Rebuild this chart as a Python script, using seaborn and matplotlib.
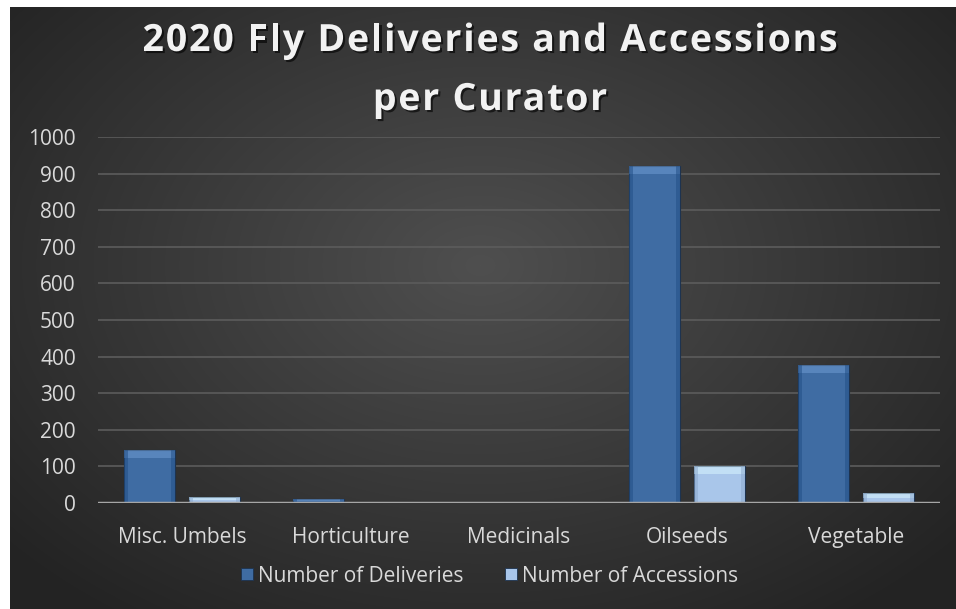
import numpy as np
import pandas as pd
import matplotlib
matplotlib.use("Agg")
import matplotlib.pyplot as plt
import matplotlib.patheffects as pe
from matplotlib.lines import Line2D
from matplotlib.patches import Rectangle
import seaborn as sns

categories = ["Misc. Umbels", "Horticulture", "Medicinals", "Oilseeds", "Vegetable"]
deliveries = [145, 10, 0, 920, 378]
accessions = [16, 1, 0, 100, 27]
series_names = ["Number of Deliveries", "Number of Accessions"]
yticks = list(range(0, 1001, 100))
title_lines = ["2020 Fly Deliveries and Accessions", "per Curator"]

df = pd.DataFrame({
    "Curator": categories * 2,
    "Value": deliveries + accessions,
    "Series": [series_names[0]] * len(categories) + [series_names[1]] * len(categories),
})

sns.set_theme(style="dark")
plt.rcParams["font.family"] = ["Open Sans", "DejaVu Sans"]

FW, FH = 956, 609
fig = plt.figure(figsize=(FW / 100, FH / 100), dpi=100, facecolor="#262626")

# radial gradient background
bg = fig.add_axes([0, 0, 1, 1], zorder=-10)
yy, xx = np.mgrid[0:FH, 0:FW]
cx, cy = 480, 265
r = np.sqrt(((xx - cx) / 620.0) ** 2 + ((yy - cy) / 430.0) ** 2)
v = np.clip(0.31 - 0.17 * r, 0.14, 0.31)
bg.imshow(np.dstack([v, v, v]), aspect="auto", extent=[0, 1, 0, 1], interpolation="bilinear")
bg.set_xlim(0, 1)
bg.set_ylim(0, 1)
bg.set_axis_off()
# white margins at left and top as in the reference
bg.add_patch(Rectangle((0, 0), 10 / FW, 1, facecolor="white", edgecolor="none", zorder=5))
bg.add_patch(Rectangle((0, 1 - 7 / FH), 1, 7 / FH, facecolor="white", edgecolor="none", zorder=5))

ax = fig.add_axes([98 / FW, 1 - 503 / FH, 842 / FW, 366 / FH])
ax.set_facecolor("none")
palette = {series_names[0]: "#3F6CA3", series_names[1]: "#A9C6EA"}
sns.barplot(data=df, x="Curator", y="Value", hue="Series", order=categories,
            hue_order=series_names, palette=palette, width=0.772, gap=0.215,
            edgecolor="#1d3350", linewidth=0.8, saturation=1, ax=ax, legend=False,
            zorder=3)

# bevel shading on each bar
for p in list(ax.patches):
    h = p.get_height()
    if h <= 0:
        continue
    x0, w = p.get_x(), p.get_width()
    fc = p.get_facecolor()
    light = tuple(min(1, c + 0.18) for c in fc[:3])
    dark = tuple(max(0, c - 0.12) for c in fc[:3])
    bh = min(h * 0.5, 22)
    ax.add_patch(Rectangle((x0, h - bh), w, bh, facecolor=light, edgecolor="none",
                           alpha=0.55, zorder=3.5))
    ax.add_patch(Rectangle((x0, 0), w * 0.08, h, facecolor=dark, edgecolor="none",
                           alpha=0.5, zorder=3.5))
    ax.add_patch(Rectangle((x0 + w * 0.92, 0), w * 0.08, h, facecolor=dark,
                           edgecolor="none", alpha=0.5, zorder=3.5))

ax.set_xlim(-0.5, 4.5)
ax.set_ylim(0, 1000)
ax.set_yticks(yticks)
ax.set_yticklabels([str(t) for t in yticks])
ax.grid(axis="y", color="#5c5c5c", linewidth=1.2, zorder=0)
ax.grid(axis="x", visible=False)
for s in ax.spines.values():
    s.set_visible(False)
ax.axhline(0, color="#a6a6a6", linewidth=2.5, zorder=4)
ax.tick_params(axis="y", colors="#d9d9d9", labelsize=15, length=0, pad=16)
ax.tick_params(axis="x", colors="#d9d9d9", labelsize=15, length=0, pad=17)
ax.set_xlabel("")
ax.set_ylabel("")

handles = [Line2D([], [], marker="s", linestyle="none", markersize=9,
                  markerfacecolor=palette[n], markeredgecolor="#1d3350", markeredgewidth=0.6)
           for n in series_names]
leg = fig.legend(handles, series_names, loc="center", bbox_to_anchor=(489 / FW, 1 - 576 / FH),
                 ncol=2, frameon=False, fontsize=15, handlelength=0.7, handletextpad=0.2,
                 columnspacing=1.9)
for t in leg.get_texts():
    t.set_color("#d9d9d9")

# letter-spaced bold title
renderer = fig.canvas.get_renderer()
tkw = dict(fontsize=27, fontweight="bold", color="#f2f2f2",
           path_effects=[pe.withSimplePatchShadow(offset=(1.5, -1.5),
                                                  shadow_rgbFace="black", alpha=0.6)])


def measure(s):
    t = fig.text(0, 0, s, **tkw)
    w = t.get_window_extent(renderer).width
    t.remove()
    return w


ref_w = measure(title_lines[0])
spacing = max(0.0, (695 - ref_w) / (len(title_lines[0]) - 1))
for line, base in zip(title_lines, [51, 110]):
    total = measure(line) + spacing * (len(line) - 1)
    x_start = 490 - total / 2
    for i, ch in enumerate(line):
        if ch == " ":
            continue
        xr = x_start + measure(line[: i + 1]) + i * spacing
        fig.text(xr / FW, 1 - base / FH, ch, ha="right", va="baseline", **tkw)

fig.savefig("out.png", dpi=100, facecolor=fig.get_facecolor())
